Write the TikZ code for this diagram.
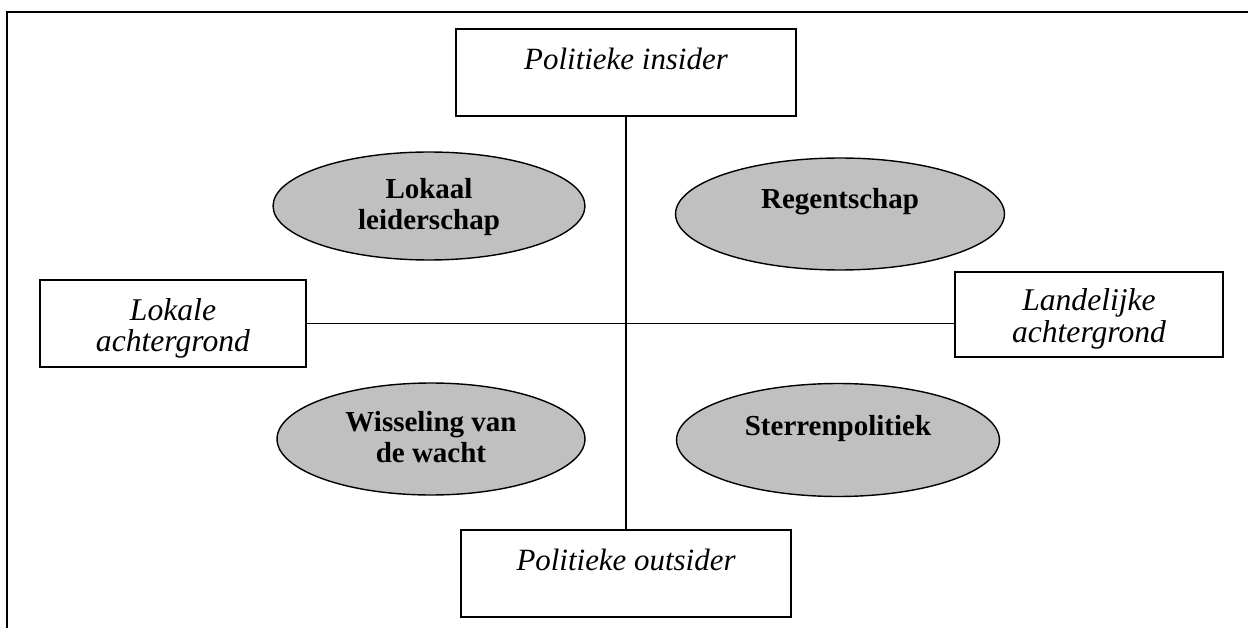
\documentclass[tikz,border=0pt]{standalone}
\usepackage{fontspec}
\setmainfont{Liberation Serif}
\usepackage{tikz}
\usetikzlibrary{shapes.geometric,positioning}
\definecolor{TypeGray}{HTML}{C0C0C0}

\begin{document}
\begin{tikzpicture}[x=0.02cm,y=-0.02cm,
  kader/.style={draw,line width=.9pt,rectangle,inner sep=0pt,align=center,anchor=base},
  type/.style={ellipse,draw,line width=.8pt,fill=TypeGray,inner sep=0pt,align=center,
    text height=0pt,text depth=.2cm,font=\fontsize{16.5}{18.2}\selectfont\bfseries},
  twee/.style={text height=.96cm,text depth=0pt}]
\useasboundingbox (0,0) rectangle (1248,628);
% Kader
\draw[line width=1.3pt] (1248,12) -- (7,12) -- (7,628);

% As politiek
\node[kader,minimum width=6.80cm,text height=.82cm,text depth=.92cm,
  font=\fontsize{17.6}{20}\selectfont\itshape] (insider) at (626,70) {Politieke insider};
\node[kader,minimum width=6.60cm,text height=.80cm,text depth=.94cm,
  font=\fontsize{17.6}{20}\selectfont\itshape] (outsider) at (626,570) {Politieke outsider};

% As achtergrond (basislijn = onderste regel)
\node[kader,minimum width=5.32cm,text height=1.44cm,text depth=.30cm,
  font=\fontsize{18}{18.2}\selectfont\itshape] (lokale) at (173,352) {Lokale\\achtergrond};
\node[kader,minimum width=5.36cm,text height=1.40cm,text depth=.30cm,
  font=\fontsize{18}{18.2}\selectfont\itshape] (landelijke) at (1089,342) {Landelijke\\achtergrond};

% Assen
\draw[line width=.9pt] (insider) -- (outsider);
\draw[line width=.9pt] (lokale.east) -- (lokale.east -| landelijke.west);

% Typen
\node[type,twee,minimum width=6.24cm,minimum height=2.16cm] (lokaal) at (429,206) {Lokaal\\leiderschap};
\node[type,minimum width=6.58cm,minimum height=2.24cm] (regent) at (840,214) {Regentschap};
\node[type,twee,minimum width=6.16cm,minimum height=2.24cm] (wissel) at (431,439) {Wisseling van\\de wacht};
\node[type,minimum width=6.46cm,minimum height=2.26cm] (sterren) at (838,440) {Sterrenpolitiek};
\end{tikzpicture}
\end{document}
